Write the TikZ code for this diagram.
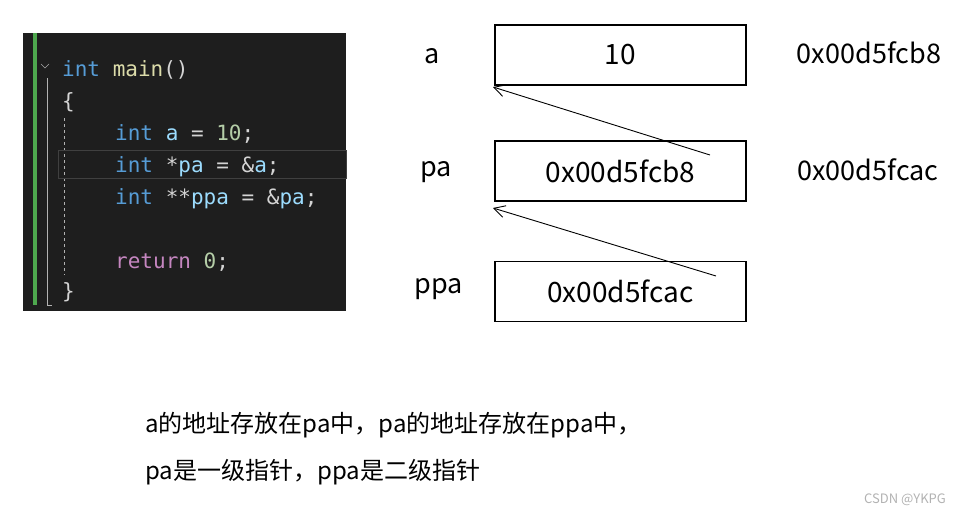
\documentclass[tikz,border=0pt]{standalone}
\usepackage{fontspec}
\setmainfont{Noto Sans CJK SC}
\newfontfamily\codefont{DejaVu Sans Mono}
\usetikzlibrary{positioning,arrows.meta}
\definecolor{codebg}{HTML}{1E1E1E}
\definecolor{kwblue}{HTML}{569CD6}
\definecolor{fnyellow}{HTML}{DCDCAA}
\definecolor{varblue}{HTML}{9CDCFE}
\definecolor{numgreen}{HTML}{B5CEA8}
\definecolor{retpurple}{HTML}{C586C0}
\definecolor{punct}{HTML}{D4D4D4}
\definecolor{gitgreen}{HTML}{4EA84E}
\newcommand{\kw}[1]{\textcolor{kwblue}{#1}}
\newcommand{\vr}[1]{\textcolor{varblue}{#1}}
\newcommand{\pu}[1]{\textcolor{punct}{#1}}
\tikzset{
  codeline/.style={anchor=base west,inner sep=0pt,font=\codefont\fontsize{21}{24}\selectfont},
  membox/.style={draw,line width=1.2pt,minimum width=251pt,minimum height=60pt,inner sep=0pt,font=\fontsize{28}{32}\selectfont},
  varname/.style={font=\fontsize{27}{32}\selectfont},
  note/.style={anchor=base west,inner sep=0pt,font=\fontsize{24}{28}\selectfont},
  ptr/.style={-{Straight Barb[length=11pt,width=12pt]},line width=0.9pt}
}
\begin{document}
\begin{tikzpicture}[x=1pt,y=-1pt]
  \useasboundingbox (0,0) rectangle (968,519);
  % code panel
  \fill[codebg] (23,33) rectangle (346,311);
  \fill[gitgreen] (33,33) rectangle (37,305);
  \draw[gray!60,line width=0.6pt] (47,78) -- (47,305) -- (52,305);
  \draw[gray!60,dashed,line width=0.5pt] (64,118) -- (64,275);
  \draw[gray!50!black,line width=0.8pt] (58,150) rectangle (346,178);
  \draw[gray!70,line width=0.6pt] (41,64) -- (45,68) -- (49,64);
  \node[codeline] (l1) at (62,76) {\kw{int} \textcolor{fnyellow}{main}\pu{()}};
  \node[codeline] (l2) at (62,108) {\pu{\{}};
  \node[codeline] (l3) at (115,140) {\kw{int} \vr{a} \pu{=} \textcolor{numgreen}{10}\pu{;}};
  \node[codeline] (l4) at (115,172) {\kw{int} \pu{*}\vr{pa} \pu{= \&}\vr{a}\pu{;}};
  \node[codeline] (l5) at (115,204) {\kw{int} \pu{**}\vr{ppa} \pu{= \&}\vr{pa}\pu{;}};
  \node[codeline] (l6) at (115,268) {\textcolor{retpurple}{return} \textcolor{numgreen}{0}\pu{;}};
  \node[codeline] (l7) at (62,298) {\pu{\}}};
  % memory boxes
  \node[membox] (boxa) at (620.5,55) {10};
  \node[membox] (boxpa) at (620.5,171) {0x00d5fcb8};
  \node[membox] (boxppa) at (620.5,291.5) {0x00d5fcac};
  \node[varname] (na) at (432,56) {a};
  \node[varname] (npa) at (436,172) {pa};
  \node[varname] (nppa) at (439,289) {ppa};
  \node[varname] (addra) at (869,53) {0x00d5fcb8};
  \node[varname] (addrpa) at (868,170) {0x00d5fcac};
  \coordinate (fpa) at (710,155);
  \coordinate (fppa) at (716,276);
  \coordinate (ta) at (493,87);
  \coordinate (tpa) at (493,208);
  \draw[ptr] (fpa) -- (ta);
  \draw[ptr] (fppa) -- (tpa);
  % text
  \node[note] (t1) at (145,432) {a的地址存放在pa中，pa的地址存放在ppa中，};
  \node[note] (t2) at (145,479) {pa是一级指针，ppa是二级指针};
  \node[font=\fontsize{13}{15}\selectfont,text=gray!60] (wm) at (905,500) {CSDN @YKPG};
\end{tikzpicture}
\end{document}
